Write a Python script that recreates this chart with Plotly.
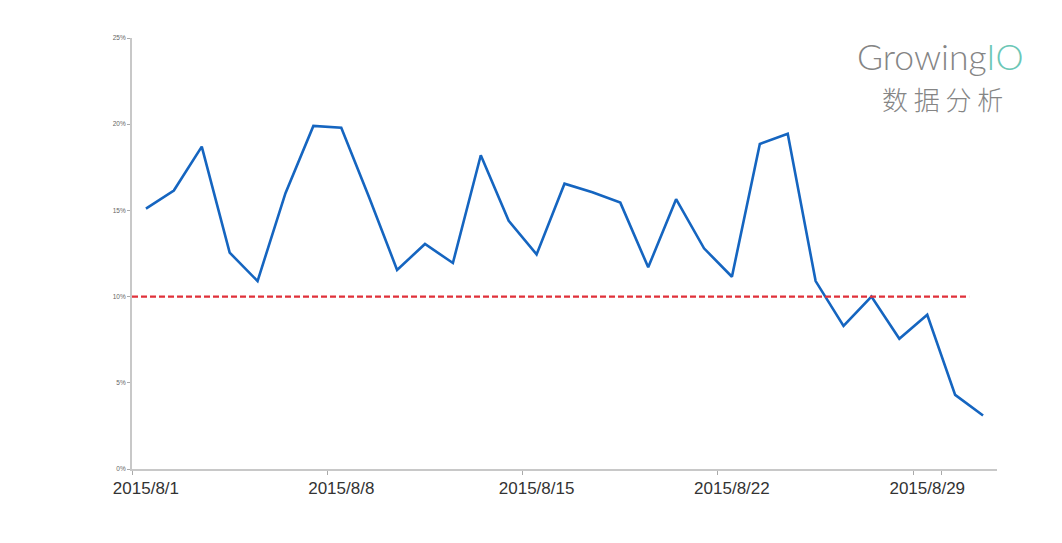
import plotly.graph_objects as go

dates = [f"2015/8/{d}" for d in range(1, 32)]
rates = [15.1, 16.15, 18.7, 12.55, 10.9, 16.0, 19.9, 19.8, 15.75, 11.55,
         13.05, 11.95, 18.2, 14.4, 12.45, 16.55, 16.05, 15.45, 11.7, 15.65,
         12.8, 11.15, 18.85, 19.45, 10.9, 8.3, 10.0, 7.55, 8.95, 4.3, 3.1]
threshold = 10.0
tick_dates = ["2015/8/1", "2015/8/8", "2015/8/15", "2015/8/22", "2015/8/29"]
y_ticks = [0, 5, 10, 15, 20, 25]
y_labels = ["0%", "5%", "10%", "15%", "20%", "25%"]

fig = go.Figure()
fig.add_trace(go.Scatter(
    x=dates, y=rates, mode="lines",
    line=dict(color="#1565c0", width=2.6),
    hoverinfo="x+y", showlegend=False,
))

# threshold reference line
fig.add_shape(type="line", xref="x", yref="y",
              x0=-0.5, x1=len(dates) - 1.5, y0=threshold, y1=threshold,
              line=dict(color="#e0313a", width=2.4, dash="6px,3px"))

fig.update_layout(
    width=1062, height=543,
    margin=dict(l=124, r=73, t=30, b=82, autoexpand=False),
    paper_bgcolor="white", plot_bgcolor="white",
    font=dict(family="Liberation Sans, Arial, sans-serif"),
)
fig.update_xaxes(
    type="category", range=[-0.5, len(dates) - 0.5],
    tickvals=tick_dates, ticktext=tick_dates,
    tickson="boundaries", tickangle=0, automargin=False,
    ticks="outside", ticklen=4, tickcolor="#aaaaaa", tickwidth=1,
    ticklabelstandoff=3,
    showline=True, linecolor="#c8c8c8", linewidth=2,
    showgrid=False, zeroline=False,
    tickfont=dict(size=17, color="#333333"),
)
fig.update_yaxes(
    range=[0, 25], tickvals=y_ticks, ticktext=y_labels, automargin=False,
    ticks="outside", ticklen=3, tickcolor="#aaaaaa",
    showline=True, linecolor="#c8c8c8", linewidth=2,
    showgrid=False, zeroline=False,
    tickfont=dict(size=6.5, color="#666666"),
)

# logo text
fig.add_annotation(
    xref="paper", yref="paper", x=1.034, y=1.0, xanchor="right", yanchor="bottom",
    yshift=-42,
    text="<span style='color:#858585'>Growing</span><span style='color:#6cc7b6'>IO</span>",
    showarrow=False, font=dict(size=35.5, family="Lato, Open Sans, sans-serif", weight=300),
)
fig.add_annotation(
    xref="paper", yref="paper", x=1.009, y=1.0, xanchor="right", yanchor="bottom",
    yshift=-81,
    text="数 据 分 析",
    showarrow=False, font=dict(size=26, family="Noto Sans CJK SC", color="#858585", weight=300),
)

fig.write_html("out.html")
